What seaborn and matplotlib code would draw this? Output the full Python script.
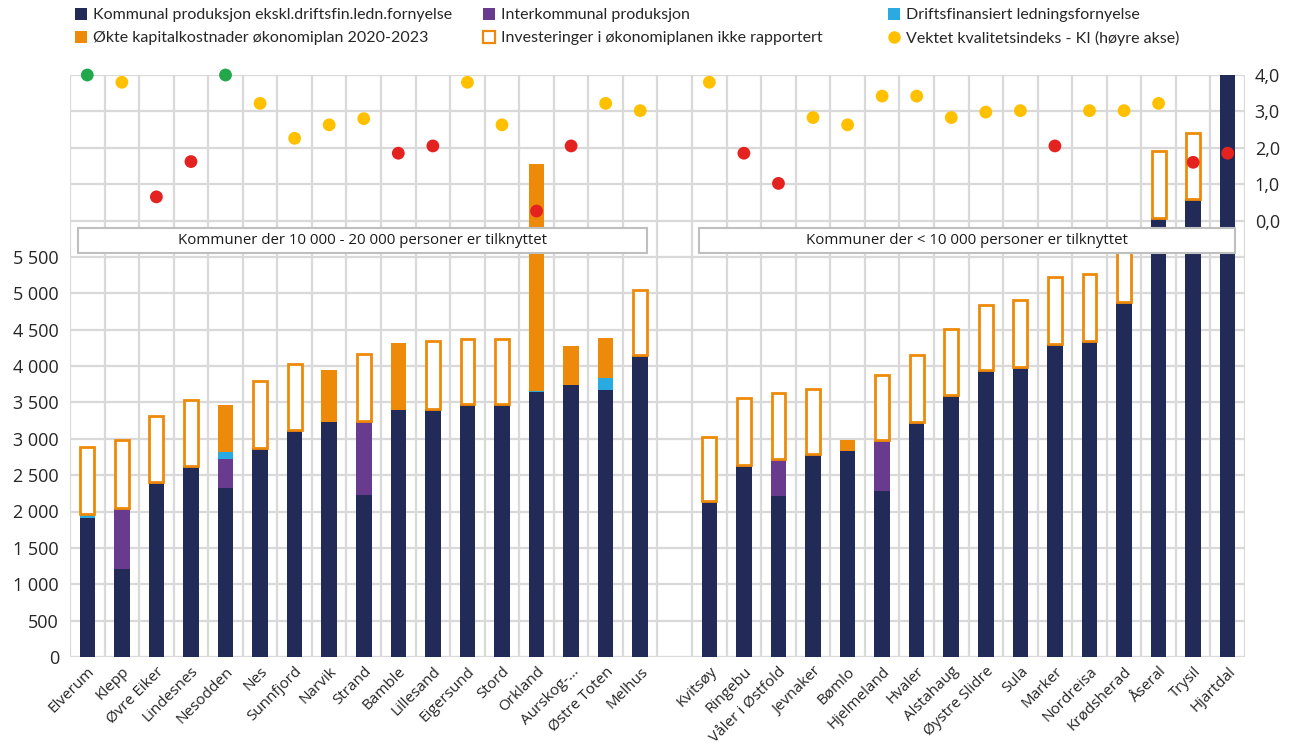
import numpy as np
import pandas as pd
import seaborn as sns
import matplotlib.pyplot as plt
from matplotlib.lines import Line2D
from matplotlib.patches import Rectangle

# --- data (first 17: 10 000 - 20 000 tilknyttet, last 16: < 10 000 tilknyttet) ---
kommuner_store = ["Elverum", "Klepp", "Øvre Eiker", "Lindesnes", "Nesodden", "Nes", "Sunnfjord",
                  "Narvik", "Strand", "Bamble", "Lillesand", "Eigersund", "Stord", "Orkland",
                  "Aurskog-...", "Østre Toten", "Melhus"]
kommuner_sma = ["Kvitsøy", "Ringebu", "Våler i Østfold", "Jevnaker", "Bømlo", "Hjelmeland", "Hvaler",
                "Alstahaug", "Øystre Slidre", "Sula", "Marker", "Nordreisa", "Krødsherad", "Åseral",
                "Trysil", "Hjartdal"]

kommunal = [1912, 1213, 2407, 2620, 2324, 2870, 3120, 3227, 2222, 3393, 3412, 3475, 3475, 3636, 3736, 3664, 4150,
            2148, 2644, 2208, 2790, 2838, 2287, 3225, 3600, 3940, 3986, 4305, 4350, 4881, 6032, 6293, 8600]
interkommunal = [0, 838, 0, 0, 394, 0, 0, 0, 1028, 0, 0, 0, 0, 0, 0, 0, 0,
                 0, 0, 509, 0, 0, 700, 0, 0, 0, 0, 0, 0, 0, 0, 0, 0]
driftsfinansiert = [56, 0, 0, 0, 106, 0, 0, 0, 0, 0, 0, 0, 0, 23, 0, 172, 0,
                    0, 0, 0, 0, 0, 0, 0, 0, 0, 0, 0, 0, 0, 0, 0, 0]
okte_kapital = [0, 0, 0, 0, 639, 0, 0, 723, 0, 921, 0, 0, 0, 3111, 537, 550, 0,
                0, 0, 0, 0, 150, 0, 0, 0, 0, 0, 0, 0, 0, 0, 0, 0]
ikke_rapportert = [916, 935, 903, 908, 0, 930, 903, 0, 918, 0, 929, 890, 890, 0, 0, 0, 895,
                   882, 911, 912, 890, 0, 890, 920, 910, 893, 928, 912, 920, 900, 930, 916, 0]
kvalitetsindeks = [4.0, 3.8, 0.65, 1.62, 4.0, 3.22, 2.26, 2.63, 2.8, 1.85, 2.05, 3.8, 2.63, 0.26, 2.05, 3.22, 3.02,
                   3.8, 1.85, 1.02, 2.83, 2.63, 3.42, 3.42, 2.83, 2.98, 3.02, 2.05, 3.02, 3.02, 3.22, 1.6, 1.85]

NAVY, PURPLE, CYAN, ORANGE = "#222B57", "#683B8E", "#29ABE2", "#EE8A0A"
KI_COLORS = {"god": "#22A84B", "middels": "#FFC000", "darlig": "#E42320"}
GRID = "#D9D9D9"

df = pd.DataFrame({
    "kommune": kommuner_store + kommuner_sma,
    "pos": list(range(len(kommuner_store))) + list(range(len(kommuner_store) + 1,
                                                         len(kommuner_store) + 1 + len(kommuner_sma))),
    "kommunal": kommunal,
    "interkommunal": interkommunal,
    "drifts": driftsfinansiert,
    "okte": okte_kapital,
    "ikke_rapportert": ikke_rapportert,
    "ki": kvalitetsindeks,
})
df["ki_klasse"] = np.where(df["ki"] >= 3.95, "god", np.where(df["ki"] < 2.1, "darlig", "middels"))

sns.set_theme(style="white")
plt.rcParams["font.family"] = ["Open Sans", "DejaVu Sans"]

fig = plt.figure(figsize=(12.91, 7.49), dpi=100)
ax = fig.add_axes([70 / 1291, 92 / 749, 1175 / 1291, 582 / 749])

# stacked bars
bottom = np.zeros(len(df))
for col, color in [("kommunal", NAVY), ("interkommunal", PURPLE), ("drifts", CYAN), ("okte", ORANGE)]:
    ax.bar(df["pos"], df[col], bottom=bottom, width=0.45, color=color, linewidth=0, zorder=2)
    bottom += df[col].values
mask = df["ikke_rapportert"] > 0
ax.bar(df.loc[mask, "pos"], df.loc[mask, "ikke_rapportert"], bottom=bottom[mask.values], width=0.40,
       facecolor="white", edgecolor=ORANGE, linewidth=2, zorder=2)

ax.set_xlim(-0.5, df["pos"].max() + 0.5)
ax.set_ylim(0, 8000)
yt = np.arange(0, 8001, 500)
ax.set_yticks(yt)
ax.set_yticklabels([f"{v:,.0f}".replace(",", " ") if v <= 5500 else "" for v in yt], fontsize=13)
ax.set_xticks(df["pos"])
ax.set_xticklabels(df["kommune"], rotation=45, ha="right", rotation_mode="anchor", fontsize=11)
ax.set_xticks(np.arange(-0.5, df["pos"].max() + 1, 1), minor=True)
ax.tick_params(axis="both", which="both", length=0)
ax.tick_params(axis="y", pad=8)
ax.tick_params(axis="x", pad=5)
ax.grid(which="minor", axis="x", color=GRID, linewidth=1.6, zorder=0)
ax.grid(which="major", axis="y", color=GRID, linewidth=1.6, zorder=0)
ax.grid(which="major", axis="x", visible=False)
ax.set_axisbelow(True)
for s in ax.spines.values():
    s.set_visible(False)

# secondary axis: kvalitetsindeks
ax2 = ax.twinx()
sns.scatterplot(x=df["pos"], y=df["ki"], hue=df["ki_klasse"], palette=KI_COLORS, s=85,
                linewidth=0, legend=False, ax=ax2, zorder=5, clip_on=False)
ax2.set_ylim(-12, 4)
ax2.set_yticks([0, 1, 2, 3, 4])
ax2.set_yticklabels([f"{v:.1f}".replace(".", ",") for v in range(5)], fontsize=13)
ax2.tick_params(axis="y", length=0, pad=7)
ax2.grid(False)
ax2.set_xlabel("")
ax2.set_ylabel("")
ax.set_xlim(-0.5, df["pos"].max() + 0.5)
for s in ax2.spines.values():
    s.set_visible(False)

# group boxes
for x0, w, txt in [(0.0068, 0.4843, "Kommuner der 10 000 - 20 000 personer er tilknyttet"),
                   (0.5353, 0.4562, "Kommuner der < 10 000 personer er tilknyttet")]:
    ax2.add_patch(Rectangle((x0, 0.6942), w, 0.043, transform=ax2.transAxes, facecolor="white",
                            edgecolor="#BFBFBF", linewidth=1.5, zorder=4, clip_on=False))
    ax2.text(x0 + w / 2, 0.6942 + 0.0215, txt, transform=ax2.transAxes, ha="center", va="center",
             fontsize=10.8, color="#1A1A1A", zorder=4.5)

# legend in three columns
def sq(color, face=None, mew=0):
    return Line2D([], [], linestyle="none", marker="s", markersize=8.5,
                  markerfacecolor=face or color, markeredgecolor=color, markeredgewidth=mew)

legend_cols = [
    (75, [(sq(NAVY), "Kommunal produksjon ekskl.driftsfin.ledn.fornyelse"),
          (sq(ORANGE), "Økte kapitalkostnader økonomiplan 2020-2023")]),
    (483, [(sq(PURPLE), "Interkommunal produksjon"),
           (sq(ORANGE, face="white", mew=1.6), "Investeringer i økonomiplanen ikke rapportert")]),
    (888, [(sq(CYAN), "Driftsfinansiert ledningsfornyelse"),
           (Line2D([], [], linestyle="none", marker="o", markersize=9, markerfacecolor="#FFC000",
                   markeredgewidth=0), "Vektet kvalitetsindeks - KI (høyre akse)")]),
]
for xpx, items in legend_cols:
    fig.legend(handles=[h for h, _ in items], labels=[l for _, l in items], loc="upper left",
               bbox_to_anchor=(xpx / 1291, 1 - 8 / 749), frameon=False, borderpad=0, borderaxespad=0,
               handlelength=0.8, handletextpad=0.3, labelspacing=0.55,
               prop={"family": ["Lato", "DejaVu Sans"], "size": 11.5})

fig.savefig("out.png", dpi=100)
